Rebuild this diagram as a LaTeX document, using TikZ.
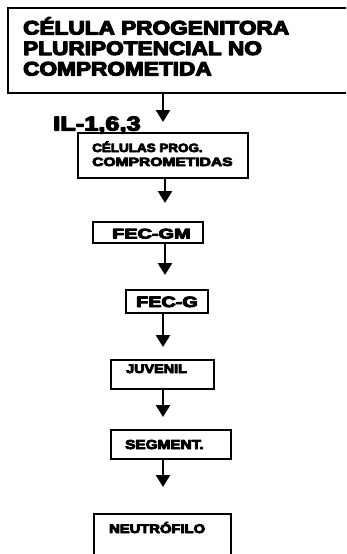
\documentclass[tikz,border=0pt]{standalone}
\usepackage{fontspec}
\usepackage{graphicx}
\usetikzlibrary{arrows.meta}
\newfontfamily\hv{Liberation Sans}
\newcommand\sx[3]{\scalebox{#1}[1]{\special{pdf:literal 2 Tr 1 j #2 w}#3\special{pdf:literal 0 Tr}}}
\begin{document}
\begin{tikzpicture}[x=1pt,y=-1pt,
  box/.style={draw=black,line width=1.7pt,inner sep=0pt,rectangle},
  txt/.style={anchor=base west,inner sep=0pt},
  arr/.style={line width=2.5pt,-{Triangle[width=14pt,length=12pt]}}]
\useasboundingbox (0,0) rectangle (346,554);
\clip (0,0) rectangle (346,554);
% boxes
\node[box,minimum width=344pt,minimum height=85pt] (b1) at (180,50.5) {};
\node[box,minimum width=170pt,minimum height=45pt] (b2) at (163,155.5) {};
\node[box,minimum width=110pt,minimum height=21pt] (b3) at (148,232.5) {};
\node[box,minimum width=82pt,minimum height=23pt] (b4) at (167,301.5) {};
\node[box,minimum width=103pt,minimum height=29pt] (b5) at (162.5,374.5) {};
\node[box,minimum width=120pt,minimum height=29pt] (b6) at (171,444.5) {};
\node[box,minimum width=137pt,minimum height=56pt] (b7) at (162.5,542) {};
% texts
\node[txt,font=\hv\bfseries\fontsize{19.5}{20}\selectfont] (t1a) at (23,34.5) {\sx{1.16}{1.1}{CÉLULA PROGENITORA}};
\node[txt,font=\hv\bfseries\fontsize{19.5}{20}\selectfont] (t1b) at (23,55) {\sx{1.16}{1.1}{PLURIPOTENCIAL NO}};
\node[txt,font=\hv\bfseries\fontsize{19.5}{20}\selectfont] (t1c) at (23,75.5) {\sx{1.16}{1.1}{COMPROMETIDA}};
\node[txt,font=\hv\bfseries\fontsize{20}{20}\selectfont] (il) at (53,130.5) {\sx{1.27}{1.1}{IL-1,6,3}};
\node[txt,font=\hv\bfseries\fontsize{12}{12}\selectfont] (t2a) at (92,152) {\sx{1.12}{0.75}{CÉLULAS PROG.}};
\node[txt,font=\hv\bfseries\fontsize{12}{12}\selectfont] (t2b) at (92,166) {\sx{1.3}{0.75}{COMPROMETIDAS}};
\node[txt,font=\hv\bfseries\fontsize{14}{14}\selectfont] (t3) at (112,238.5) {\sx{1.42}{0.85}{FEC-GM}};
\node[txt,font=\hv\bfseries\fontsize{15}{15}\selectfont] (t4) at (136,307) {\sx{1.32}{0.9}{FEC-G}};
\node[txt,font=\hv\bfseries\fontsize{12.5}{12.5}\selectfont] (t5) at (126,373) {\sx{1.15}{0.8}{JUVENIL}};
\node[txt,font=\hv\bfseries\fontsize{13}{13}\selectfont] (t6) at (125,449) {\sx{1.18}{0.8}{SEGMENT.}};
\node[txt,font=\hv\bfseries\fontsize{12.5}{12.5}\selectfont] (t7) at (109,533) {\sx{1.18}{0.8}{NEUTRÓFILO}};
% arrow tips
\coordinate (a1) at (163,122);
\coordinate (a2) at (165,203);
\coordinate (a3) at (165,275);
\coordinate (a4) at (163,347);
\coordinate (a5) at (163,417);
\coordinate (a6) at (163,487);
\draw[arr] (b1.south -| a1) -- (a1);
\draw[arr] (b2.south -| a2) -- (a2);
\draw[arr] (b3.south -| a3) -- (a3);
\draw[arr] (b4.south -| a4) -- (a4);
\draw[arr] (b5.south -| a5) -- (a5);
\draw[arr] (b6.south -| a6) -- (a6);
\end{tikzpicture}
\end{document}
